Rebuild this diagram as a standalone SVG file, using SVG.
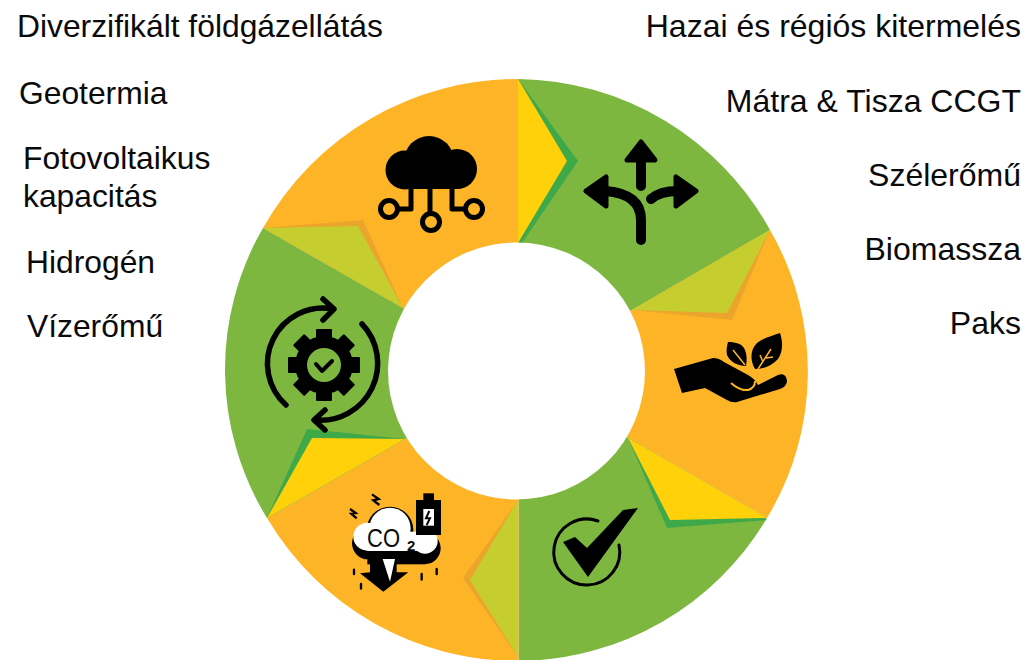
<svg xmlns="http://www.w3.org/2000/svg" width="1025" height="660" viewBox="0 0 1025 660">
<style>
text{font-family:"Liberation Sans",Arial,sans-serif;font-size:31.8px;fill:#0a0a0a}
.end{text-anchor:end;font-size:32px}
.or{fill:#FDB527}.gr{fill:#7DB740}.ye{fill:#FFD10A}.li{fill:#C5CE2E}.dg{fill:#3FA94A}.do{fill:#EBA52D}
.ln{fill:none;stroke:#000;stroke-linecap:round;stroke-linejoin:round}
</style>
<rect width="1025" height="660" fill="#fff"/>
<g id="segment-cloud"><path class="or" d="M518.500 79L518.500 243L517 371L403 308L263 228A291.500 291.500 0 0 1 518.500 79Z"/></g>
<g id="segment-paths"><path class="gr" d="M518.500 79A291.500 291.500 0 0 1 770 230L632 310L517 371L518.500 243Z"/></g>
<g id="segment-hand"><path class="or" d="M770 230A283 283 0 0 1 767 518L628 438L517 371L632 310Z"/></g>
<g id="segment-check"><path class="gr" d="M767 518A291.500 291.500 0 0 1 518.500 661L518.500 500L517 371L628 438Z"/></g>
<g id="segment-co2"><path class="or" d="M518.500 661A291.500 291.500 0 0 1 267 518L405 439L517 371L518.500 500Z"/></g>
<g id="segment-gear"><path class="gr" d="M267 518A283 283 0 0 1 263 228L403 308L517 371L405 439Z"/></g>
<g id="chevrons">
<polygon class="dg" points="518,79 578,161 522,243 518,243"/><polygon class="ye" points="518,79 567,161 518,243"/>
<polygon class="do" points="770,230 732,320 632,310"/><polygon class="li" points="770,230 727,313 632,310"/>
<polygon class="dg" points="628,438 667,528 767,520"/><polygon class="ye" points="628,438 670,520 767,518"/>
<polygon class="do" points="518,500 463,578 518,657"/><polygon class="li" points="518,500 470,580 518,657"/>
<polygon class="dg" points="405,439 307,429 267,518"/><polygon class="ye" points="405,439 312,438 267,518"/>
<polygon class="do" points="263,228 363,220 403,308"/><polygon class="li" points="263,228 358,226 403,308"/>
</g>
<circle id="hole" cx="516.500" cy="371" r="128.500" fill="#fff"/>
<g id="icon-cloud">
<g fill="#000"><circle cx="405" cy="170" r="19.500"/><circle cx="429" cy="161" r="25"/><circle cx="457" cy="169" r="20"/><rect x="405" y="160" width="52" height="29"/></g>
<g class="ln" stroke-width="5"><circle cx="389" cy="209" r="8.500"/><circle cx="474" cy="209" r="8.500"/><circle cx="431" cy="222" r="8.500"/>
<path d="M411 189V209H398M452 189V209H465M430 189V213"/></g>
</g>
<g id="icon-paths">
<path class="ln" stroke-width="10" d="M641 240V220Q641 194 606 191M641 186V160M651 199Q660 191 678 191"/>
<g fill="#000" stroke="#000" stroke-width="5" stroke-linejoin="round"><polygon points="641,142 655,160 627,160"/><polygon points="586,191 606,177 606,206"/><polygon points="696,191 676,177 676,206"/></g>
</g>
<g id="icon-hand">
<path d="M674 369L713 358Q719 358 724 362L748 375Q755 379 758 385L778 375Q786 372 787 381Q787 386 780 389L737 402Q732 403 727 400L705 388L682 393Z" fill="#000"/>
<path d="M731 383Q740 391 748 390Q755 388 755 381" fill="none" stroke="#FDB527" stroke-width="2"/>
<path d="M728 342C736 342 743 344 745 350C747 355 747 360 746 366C738 366 730 362 727 355C726 350 727 346 728 342Z" fill="#000"/><path d="M733 350L745 365" stroke="#FDB527" stroke-width="1.500"/>
<path d="M780 333C783 342 783 352 778 359C772 366 763 369 755 369C750 360 750 350 757 343C763 338 772 336 780 333Z" fill="#000"/><path d="M771 349L758 369M766 358L773 357M763 362L760 355" stroke="#FDB527" stroke-width="1.500"/>
</g>
<g id="icon-check">
<path class="ln" stroke-width="3" d="M598 521A33 33 0 1 0 619 545"/>
<polygon points="563,542 575,537 587,548 623,510 638,508 588,577" fill="#000"/>
</g>
<g id="icon-co2">
<g transform="translate(340 485) scale(.3333)">
<g fill="#000"><circle cx="150" cy="135" r="70"/><circle cx="84" cy="175" r="48"/><circle cx="255" cy="190" r="47"/><rect x="82" y="170" width="175" height="68"/></g>
<g fill="#fff"><circle cx="150" cy="130" r="62"/><circle cx="82" cy="155" r="42"/><circle cx="255" cy="168" r="38"/><rect x="82" y="140" width="175" height="58"/></g>
<rect x="228" y="45" width="75" height="105" fill="#000"/><rect x="250" y="25" width="32" height="22" fill="#000"/><rect x="250" y="72" width="32" height="50" fill="#fff"/>
<path d="M268 78L258 100H270L260 120" stroke="#000" stroke-width="6" fill="none"/>
<polygon points="60,265 90,262 90,215 170,215 170,262 205,262 130,320" fill="#000"/>
<polygon points="128,222 165,222 150,290" fill="#fff"/>
<path class="ln" stroke-width="7" d="M42 254V267M63 297V311M245 267V284M290 252V267"/>
<path d="M30 72L47 84L34 86L50 100M96 28L116 42L100 46L118 60" fill="none" stroke="#000" stroke-width="7"/>
</g>
<text x="367" y="547" style="font-size:26px" textLength="33" lengthAdjust="spacingAndGlyphs">CO</text>
<text x="407" y="551" style="font-size:15px;font-weight:bold">2</text>
</g>
<g id="icon-gear">
<g fill="#000"><rect x="316" y="329" width="16" height="14" rx="1"/><rect x="316" y="329" width="16" height="14" rx="1" transform="rotate(45 324 365)"/><rect x="316" y="329" width="16" height="14" rx="1" transform="rotate(90 324 365)"/><rect x="316" y="329" width="16" height="14" rx="1" transform="rotate(135 324 365)"/><rect x="316" y="329" width="16" height="14" rx="1" transform="rotate(180 324 365)"/><rect x="316" y="329" width="16" height="14" rx="1" transform="rotate(225 324 365)"/><rect x="316" y="329" width="16" height="14" rx="1" transform="rotate(270 324 365)"/><rect x="316" y="329" width="16" height="14" rx="1" transform="rotate(315 324 365)"/><circle cx="324" cy="365" r="29"/></g>
<circle cx="324" cy="365" r="17" fill="#7DB740"/>
<path class="ln" stroke-width="4" d="M316 364L322 371L332 361"/>
<path class="ln" stroke-width="5.500" d="M286 405A55.500 55.500 0 0 1 333 309M323 299L334 309L323 320M362 324A57 57 0 0 1 315 420M325 410L314 420L325 430"/>
</g>
<g id="labels-left">
<text x="17" y="37">Diverzifikált földgázellátás</text>
<text x="19" y="103.500">Geotermia</text>
<text x="23" y="169">Fotovoltaikus</text>
<text x="23" y="206.500">kapacitás</text>
<text x="26" y="273">Hidrogén</text>
<text x="27" y="337">Vízerőmű</text>
</g>
<g id="labels-right">
<text class="end" x="1021" y="37">Hazai és régiós kitermelés</text>
<text class="end" x="1021" y="112">Mátra &amp; Tisza CCGT</text>
<text class="end" x="1021" y="186">Szélerőmű</text>
<text class="end" x="1021" y="260">Biomassza</text>
<text class="end" x="1021" y="334">Paks</text>
</g>
</svg>
